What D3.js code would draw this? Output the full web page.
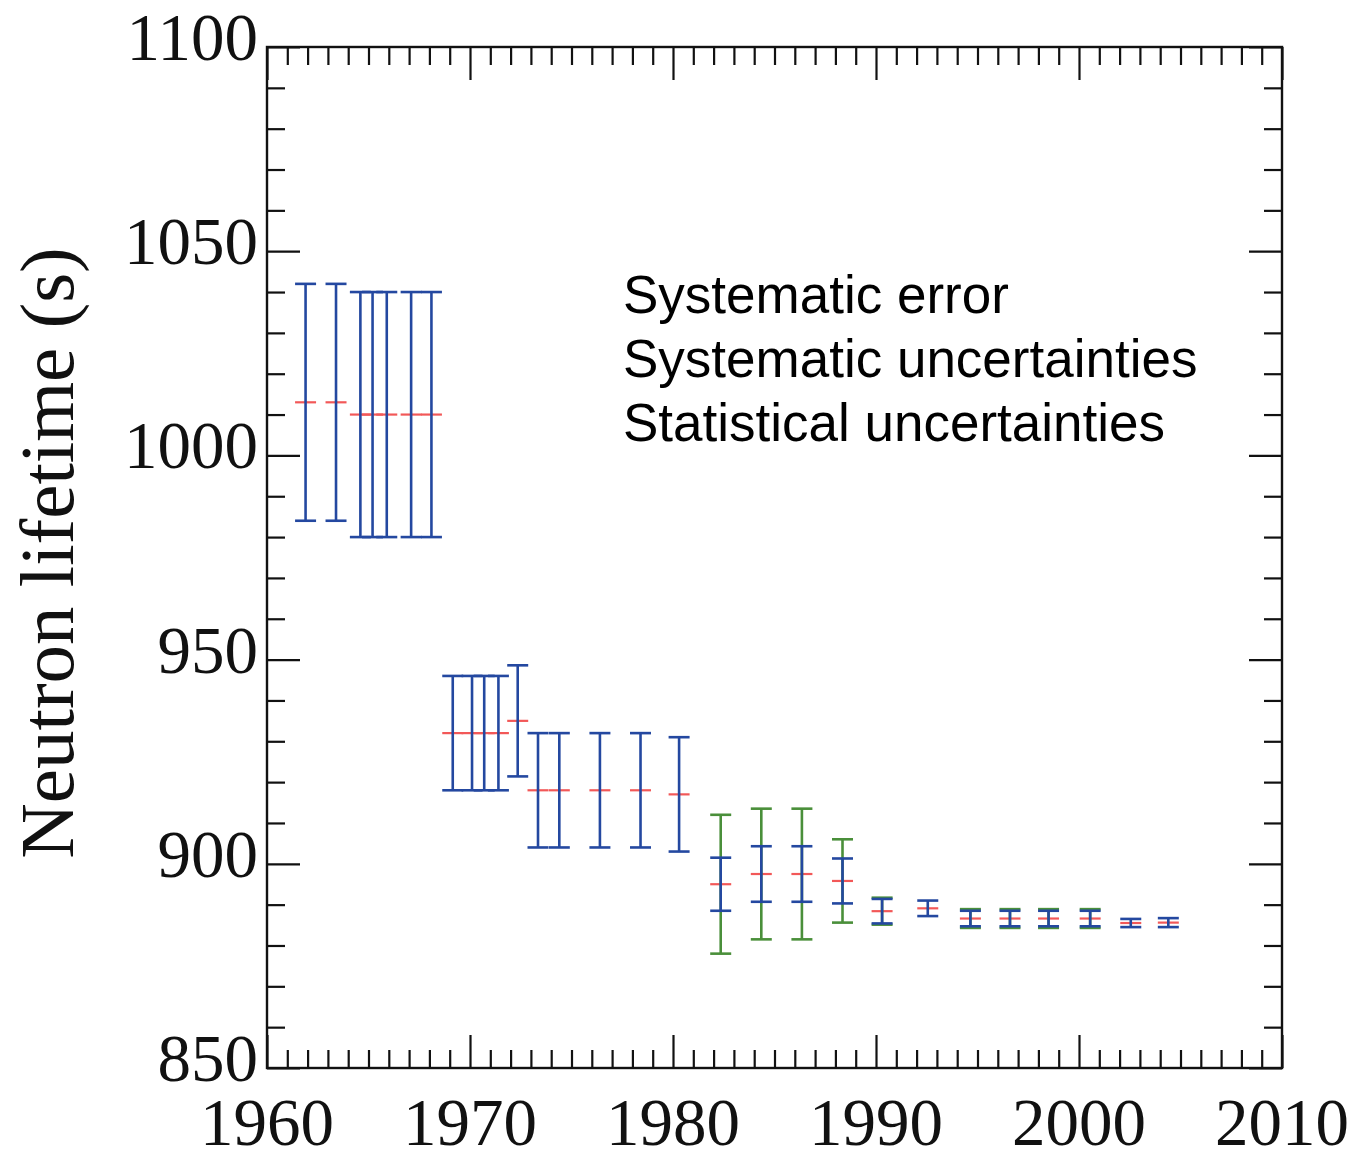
<!DOCTYPE html>
<html>
<head>
<meta charset="utf-8">
<script src="https://cdn.jsdelivr.net/npm/d3@7"></script>
<style>
  html, body { margin: 0; padding: 0; background: #fff; }
  svg { display: block; }
</style>
</head>
<body>
<svg id="chart" width="1364" height="1159"></svg>
<script>
// Measurement year of each neutron lifetime result
const years = [1961.9, 1963.4, 1964.6, 1965.2, 1965.9, 1967.1, 1968.1,
  1969.15, 1970.1, 1970.7, 1971.4, 1972.35, 1973.35, 1974.4, 1976.4, 1978.4, 1980.3,
  1982.35, 1984.35, 1986.35, 1988.35, 1990.3, 1992.55, 1994.65, 1996.6, 1998.5,
  2000.55, 2002.55, 2004.4];
// Central value (s)
const lifetimes = [1013, 1013, 1010, 1010, 1010, 1010, 1010,
  932, 932, 932, 932, 935, 918, 918, 918, 918, 917,
  895, 897.5, 897.5, 895.8, 888.4, 889.1, 886.6, 886.6, 886.6,
  886.6, 885.5, 885.6];
// Statistical half-width (s), blue bars
const statErr = [29, 29, 30, 30, 30, 30, 30,
  14, 14, 14, 14, 13.6, 14, 14, 14, 14, 14,
  6.5, 6.8, 6.8, 5.5, 3.0, 1.9, 1.9, 1.9, 1.9,
  1.9, 1.0, 1.1];
// Systematic half-width (s), green bars; null where not given
const systErr = [null, null, null, null, null, null, null,
  null, null, null, null, null, null, null, null, null, null,
  17, 16, 16, 10.2, 3.3, null, 2.3, 2.3, 2.3,
  2.3, null, null];

const xMajorTicks = [1960, 1970, 1980, 1990, 2000, 2010];
const yMajorTicks = [850, 900, 950, 1000, 1050, 1100];
const legendLines = ["Systematic error", "Systematic uncertainties", "Statistical uncertainties"];

const data = years.map((yr, i) => ({
  year: yr, value: lifetimes[i], stat: statErr[i], syst: systErr[i]
}));

const svg = d3.select("#chart");
const plotLeft = 267, plotRight = 1282, plotTop = 47, plotBottom = 1068;

const x = d3.scaleLinear().domain([1960, 2010]).range([plotLeft, plotRight]);
const y = d3.scaleLinear().domain([850, 1100]).range([plotBottom, plotTop]);

const xMinor = d3.range(1960, 2011, 1).filter(v => v % 10 !== 0);
const yMinor = d3.range(850, 1101, 10).filter(v => v % 50 !== 0);

const MINOR = 18, MAJOR = 33;

function styleAxis(g) {
  g.select(".domain").remove();
  g.selectAll(".tick line").attr("stroke", "#111").attr("stroke-width", 2.2);
  g.selectAll(".tick text").remove();
}

// Inward ticks on all four sides
const axes = svg.append("g");
[[d3.axisBottom, xMinor, MINOR, x, `translate(0,${plotBottom})`],
 [d3.axisBottom, xMajorTicks, MAJOR, x, `translate(0,${plotBottom})`],
 [d3.axisTop, xMinor, MINOR, x, `translate(0,${plotTop})`],
 [d3.axisTop, xMajorTicks, MAJOR, x, `translate(0,${plotTop})`],
 [d3.axisLeft, yMinor, MINOR, y, `translate(${plotLeft},0)`],
 [d3.axisLeft, yMajorTicks, MAJOR, y, `translate(${plotLeft},0)`],
 [d3.axisRight, yMinor, MINOR, y, `translate(${plotRight},0)`],
 [d3.axisRight, yMajorTicks, MAJOR, y, `translate(${plotRight},0)`]
].forEach(([fn, vals, size, sc, tr]) => {
  axes.append("g").attr("transform", tr)
    .call(fn(sc).tickValues(vals).tickSize(-size).tickFormat(""))
    .call(styleAxis);
});

// Frame
svg.append("rect")
  .attr("x", plotLeft).attr("y", plotTop)
  .attr("width", plotRight - plotLeft).attr("height", plotBottom - plotTop)
  .attr("fill", "none").attr("stroke", "#111").attr("stroke-width", 2.4);

// Tick labels
const serif = "'Liberation Serif', 'Times New Roman', serif";
svg.append("g").selectAll("text").data(xMajorTicks).join("text")
  .attr("x", d => x(d)).attr("y", 1145)
  .attr("text-anchor", "middle")
  .attr("font-family", serif).attr("font-size", 67).attr("fill", "#111")
  .text(d => d);

svg.append("g").selectAll("text").data(yMajorTicks).join("text")
  .attr("x", 258).attr("y", d => y(d) + 13)
  .attr("text-anchor", "end")
  .attr("font-family", serif).attr("font-size", 67).attr("fill", "#111")
  .text(d => d);

// Y axis title
svg.append("text")
  .attr("transform", "translate(73,553) rotate(-90)")
  .attr("text-anchor", "middle")
  .attr("font-family", serif).attr("font-size", 77).attr("fill", "#111")
  .text("Neutron lifetime (s)");

// Error bars
const CAP = 10.5;
const RED = "#f25858", GREEN = "#4a8f3a", BLUE = "#2448a0";
const marks = svg.append("g");

function errorBar(g, d, half, color) {
  const cx = x(d.year);
  const y1 = y(d.value + half), y2 = y(d.value - half);
  g.append("line").attr("x1", cx).attr("x2", cx).attr("y1", y1).attr("y2", y2)
    .attr("stroke", color).attr("stroke-width", 2.6);
  [y1, y2].forEach(yy => g.append("line")
    .attr("x1", cx - CAP).attr("x2", cx + CAP).attr("y1", yy).attr("y2", yy)
    .attr("stroke", color).attr("stroke-width", 2.6));
}

// Central values
marks.append("g").selectAll("line").data(data).join("line")
  .attr("x1", d => x(d.year) - CAP).attr("x2", d => x(d.year) + CAP)
  .attr("y1", d => y(d.value)).attr("y2", d => y(d.value))
  .attr("stroke", RED).attr("stroke-width", 2.2);

const gSyst = marks.append("g");
data.filter(d => d.syst != null).forEach(d => errorBar(gSyst, d, d.syst, GREEN));
const gStat = marks.append("g");
data.forEach(d => errorBar(gStat, d, d.stat, BLUE));

// Legend text
svg.append("g").selectAll("text").data(legendLines).join("text")
  .attr("x", 623).attr("y", (d, i) => 313 + i * 64)
  .attr("font-family", "'Liberation Sans', Arial, sans-serif")
  .attr("font-size", 53).attr("fill", "#000")
  .text(d => d);
</script>
</body>
</html>
